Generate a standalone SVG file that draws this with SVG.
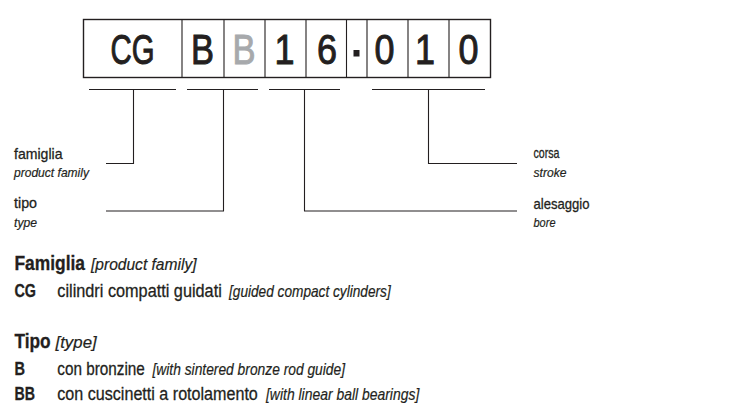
<svg xmlns="http://www.w3.org/2000/svg" width="755" height="417" viewBox="0 0 755 417">
<style>
text{font-family:"Liberation Sans Narrow","Liberation Sans",Arial,sans-serif;fill:#231f20;stroke:#231f20;stroke-width:0.3}
.code{font-size:42px;text-anchor:middle;stroke-width:1}
.gray{fill:#a7a9ac;stroke:#a7a9ac}
.lbl{font-size:15px}
.lit{font-size:13px;font-style:italic;stroke-width:0.2}
.h{font-size:19.5px;font-weight:bold}
.hi{font-size:16.5px;font-style:italic;stroke-width:0.2}
.k{font-size:17.5px;font-weight:bold}
.b{font-size:18.5px}
.cell{fill:#fff;stroke:#231f20;stroke-width:1.4}
.ln{fill:none;stroke:#231f20;stroke-width:1.1}
</style>
<rect width="755" height="417" fill="#fff"/>
<g id="code">
<rect class="cell" x="83.5" y="19.5" width="407" height="58"/>
<path class="ln" d="M182 19.5V77.5M224 19.5V77.5M265 19.5V77.5M306 19.5V77.5M346.5 19.5V77.5M367 19.5V77.5M408 19.5V77.5M449 19.5V77.5" stroke-width="1.4"/>
<text class="code" x="132.5" y="63.5" textLength="44" lengthAdjust="spacingAndGlyphs">CG</text>
<text class="code" x="202.5" y="63.5" textLength="23" lengthAdjust="spacingAndGlyphs">B</text>
<text class="code gray" x="244" y="63.5" textLength="23" lengthAdjust="spacingAndGlyphs">B</text>
<text class="code" x="284.5" y="63.5" textLength="20" lengthAdjust="spacingAndGlyphs">1</text>
<text class="code" x="327" y="63.5" textLength="20" lengthAdjust="spacingAndGlyphs">6</text>
<rect x="353.5" y="50" width="6" height="6.5" fill="#231f20"/>
<text class="code" x="384.5" y="63.5" textLength="20" lengthAdjust="spacingAndGlyphs">0</text>
<text class="code" x="425" y="63.5" textLength="20" lengthAdjust="spacingAndGlyphs">1</text>
<text class="code" x="468.5" y="63.5" textLength="20" lengthAdjust="spacingAndGlyphs">0</text>
</g>
<g id="connectors">
<path class="ln" d="M89 89.5H176M187 89.5H258M269 89.5H340M372 89.5H485"/>
<path class="ln" d="M133.5 89.5V163.5H106"/>
<path class="ln" d="M223.5 89.5V211H106"/>
<path class="ln" d="M304.5 89.5V211H517"/>
<path class="ln" d="M428.5 89.5V163.5H517"/>
</g>
<g id="famiglia">
<text class="lbl" x="14" y="158.5" textLength="48.5" lengthAdjust="spacingAndGlyphs">famiglia</text>
<text class="lit" x="14" y="177" textLength="75" lengthAdjust="spacingAndGlyphs">product family</text>
</g>
<g id="tipo">
<text class="lbl" x="14" y="208" textLength="23" lengthAdjust="spacingAndGlyphs">tipo</text>
<text class="lit" x="14" y="226.5" textLength="23" lengthAdjust="spacingAndGlyphs">type</text>
</g>
<g id="corsa">
<text class="lbl" x="533.5" y="157.5" textLength="26" lengthAdjust="spacingAndGlyphs">corsa</text>
<text class="lit" x="533.5" y="176.5" textLength="33" lengthAdjust="spacingAndGlyphs">stroke</text>
</g>
<g id="alesaggio">
<text class="lbl" x="533.5" y="209" textLength="56" lengthAdjust="spacingAndGlyphs">alesaggio</text>
<text class="lit" x="533.5" y="226.5" textLength="22" lengthAdjust="spacingAndGlyphs">bore</text>
</g>
<g id="legend">
<text class="h" x="14.5" y="270" textLength="70.5" lengthAdjust="spacingAndGlyphs">Famiglia</text>
<text class="hi" x="91" y="270" textLength="105.5" lengthAdjust="spacingAndGlyphs">[product family]</text>
<text class="k" x="14.5" y="296.7" textLength="21.5" lengthAdjust="spacingAndGlyphs">CG</text>
<text class="b" x="57.3" y="296.7" textLength="164.5" lengthAdjust="spacingAndGlyphs">cilindri compatti guidati</text>
<text class="hi" x="229" y="296.7" textLength="161.7" lengthAdjust="spacingAndGlyphs">[guided compact cylinders]</text>
<text class="h" x="14.5" y="348.3" textLength="36.2" lengthAdjust="spacingAndGlyphs">Tipo</text>
<text class="hi" x="55.5" y="348.3" textLength="41.2" lengthAdjust="spacingAndGlyphs">[type]</text>
<text class="k" x="14.5" y="375" textLength="10.5" lengthAdjust="spacingAndGlyphs">B</text>
<text class="b" x="57.3" y="375" textLength="87.5" lengthAdjust="spacingAndGlyphs">con bronzine</text>
<text class="hi" x="152.5" y="375" textLength="192.5" lengthAdjust="spacingAndGlyphs">[with sintered bronze rod guide]</text>
<text class="k" x="14.5" y="400" textLength="20.5" lengthAdjust="spacingAndGlyphs">BB</text>
<text class="b" transform="translate(57.3 400) scale(0.87 1)" x="0" y="0" textLength="230.5" lengthAdjust="spacingAndGlyphs">con cuscinetti a rotolamento</text>
<text class="hi" x="266" y="400" textLength="153.3" lengthAdjust="spacingAndGlyphs">[with linear ball bearings]</text>
</g>
</svg>
